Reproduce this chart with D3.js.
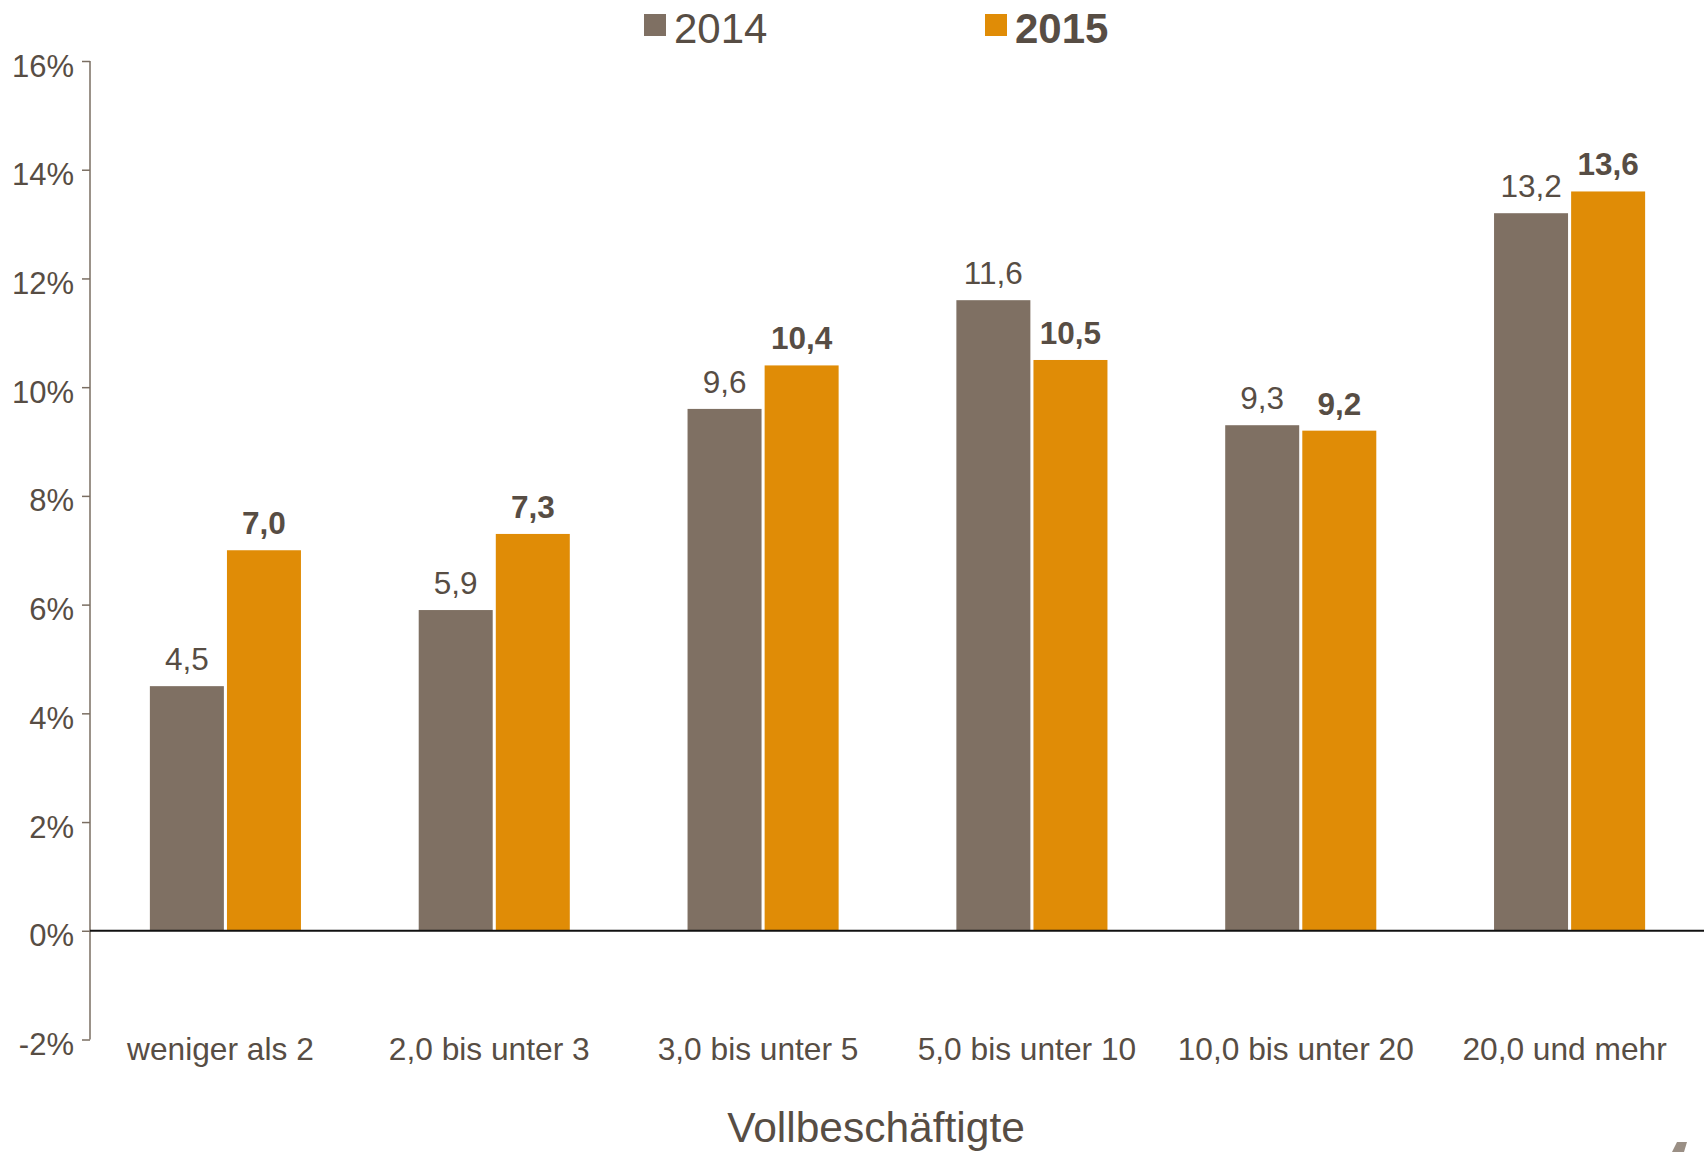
<!DOCTYPE html>
<html>
<head>
<meta charset="utf-8">
<script src="https://cdn.jsdelivr.net/npm/d3@7"></script>
<style>
  body { margin: 0; background: #fff; }
  text { font-family: "Liberation Sans", Arial, sans-serif; fill: #574d44; }
</style>
</head>
<body>
<div id="chart"></div>
<script>
// data
var categories = ["weniger als 2", "2,0 bis unter 3", "3,0 bis unter 5", "5,0 bis unter 10", "10,0 bis unter 20", "20,0 und mehr"];
var years = ["2014", "2015"];
var values2014 = [4.5, 5.9, 9.6, 11.6, 9.3, 13.2];
var values2015 = [7.0, 7.3, 10.4, 10.5, 9.2, 13.6];
var yTicks = [-2, 0, 2, 4, 6, 8, 10, 12, 14, 16];
var axisTitle = "Vollbeschäftigte";

var width = 1708, height = 1152;
var colors = { "2014": "#7f7063", "2015": "#e08c06" };
var axisColor = "#7a6e62";

var rows = categories.map(function(c, i) {
	return { cat: c, "2014": values2014[i], "2015": values2015[i] };
});

var svg = d3.select("#chart").append("svg")
	.attr("width", width)
	.attr("height", height);

var x = d3.scaleBand()
	.domain(categories)
	.range([91, 1704])
	.paddingInner(0.438)
	.paddingOuter(0.219);

var xSub = d3.scaleBand()
	.domain(years)
	.range([0, x.bandwidth()])
	.paddingInner(0.04);

var y = d3.scaleLinear()
	.domain([-2, 16])
	.range([1039.5, 61]);

// y axis
var yAxis = svg.append("g")
	.attr("transform", "translate(90,0)")
	.call(d3.axisLeft(y).tickValues(yTicks).tickSize(8).tickPadding(8).tickFormat(function(d) { return d + "%"; }));
yAxis.select(".domain").attr("stroke", axisColor).attr("stroke-width", 1.5)
	.attr("d", "M0," + y(16) + "V" + y(-2));
yAxis.selectAll(".tick line").attr("stroke", axisColor).attr("stroke-width", 1.5);
yAxis.selectAll(".tick text")
	.attr("font-size", 31)
	.attr("dy", 15)
	.style("fill", "#574d44");

// bars
var groups = svg.selectAll("g.group")
	.data(rows)
	.enter()
	.append("g")
	.attr("class", "group")
	.attr("transform", function(d) { return "translate(" + x(d.cat) + ",0)"; });

groups.selectAll("rect")
	.data(function(d) { return years.map(function(k) { return { key: k, value: d[k] }; }); })
	.enter()
	.append("rect")
	.attr("x", function(d) { return xSub(d.key); })
	.attr("y", function(d) { return y(d.value); })
	.attr("width", xSub.bandwidth())
	.attr("height", function(d) { return y(0) - y(d.value); })
	.attr("fill", function(d) { return colors[d.key]; });

groups.selectAll("text.val")
	.data(function(d) { return years.map(function(k) { return { key: k, value: d[k] }; }); })
	.enter()
	.append("text")
	.attr("class", "val")
	.attr("x", function(d) { return xSub(d.key) + xSub.bandwidth() / 2; })
	.attr("y", function(d) { return y(d.value) - 16; })
	.attr("text-anchor", "middle")
	.attr("font-size", 31.5)
	.attr("font-weight", function(d) { return d.key === "2015" ? "bold" : "normal"; })
	.text(function(d) { return d3.format(".1f")(d.value).replace(".", ","); });

// zero line
svg.append("line")
	.attr("x1", 90)
	.attr("x2", 1704)
	.attr("y1", y(0))
	.attr("y2", y(0))
	.attr("stroke", "#111")
	.attr("stroke-width", 2);

// category labels
svg.selectAll("text.cat")
	.data(categories)
	.enter()
	.append("text")
	.attr("class", "cat")
	.attr("x", function(d) { return x(d) + x.bandwidth() / 2 - 5; })
	.attr("y", 1060)
	.attr("text-anchor", "middle")
	.attr("font-size", 31.7)
	.text(function(d) { return d; });

// axis title
svg.append("text")
	.attr("x", 876)
	.attr("y", 1142)
	.attr("text-anchor", "middle")
	.attr("font-size", 42.5)
	.text(axisTitle);

// legend
var legendX = [644, 985];
var legend = svg.selectAll("g.legend")
	.data(years)
	.enter()
	.append("g")
	.attr("class", "legend")
	.attr("transform", function(d, i) { return "translate(" + legendX[i] + ",14)"; });
legend.append("rect")
	.attr("width", 22)
	.attr("height", 22)
	.attr("fill", function(d) { return colors[d]; });
legend.append("text")
	.attr("x", 30)
	.attr("y", 29)
	.attr("font-size", 42)
	.attr("font-weight", function(d) { return d === "2015" ? "bold" : "normal"; })
	.text(function(d) { return d; });

// clipped logo fragment in the corner
svg.append("path")
	.attr("d", "M1677,1142 L1687,1142 L1684,1152 L1672,1152 Z")
	.attr("fill", "#9a8f85");
</script>
</body>
</html>
